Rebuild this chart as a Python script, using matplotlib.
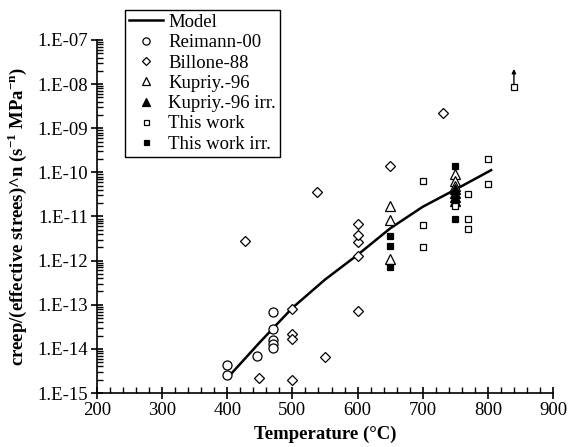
import numpy as np
import matplotlib
matplotlib.use("Agg")
import matplotlib.pyplot as plt
from matplotlib.ticker import FuncFormatter, LogLocator, MultipleLocator

plt.rcParams['font.family'] = ['Liberation Serif', 'DejaVu Serif']
plt.rcParams['mathtext.fontset'] = 'custom'
plt.rcParams['mathtext.rm'] = 'Liberation Serif'
plt.rcParams['mathtext.bf'] = 'Liberation Serif:bold'

# Model curve
model_T = [405, 450, 500, 550, 600, 650, 700, 750, 805]
model_log = [-14.58, -13.85, -13.07, -12.43, -11.87, -11.27, -10.78, -10.39, -9.95]

# Reimann-00 (open circles)
reimann_T = [400, 400, 445, 470, 470, 470, 470, 470]
reimann_y = [4.3e-15, 2.6e-15, 6.9e-15, 6.7e-14, 2.8e-14, 1.6e-14, 1.3e-14, 1.07e-14]

# Billone-88 (open diamonds)
billone_T = [427, 448, 500, 500, 500, 500, 550, 600, 600, 600, 600, 600, 537, 650, 731]
billone_y = [2.8e-12, 2.2e-15, 8.0e-14, 2.2e-14, 1.7e-14, 2.0e-15, 6.4e-15, 7.2e-14,
             1.3e-12, 2.7e-12, 3.8e-12, 6.6e-12, 3.6e-11, 1.4e-10, 2.2e-09]

# Kupriy.-96 (open triangles)
kup_T = [650, 650, 650, 750, 750, 750]
kup_y = [1.7e-11, 8.3e-12, 1.1e-12, 9.0e-11, 6.5e-11, 5.0e-11]

# Kupriy.-96 irr. (filled triangles)
kup_irr_T = [750, 750, 750, 750]
kup_irr_y = [4.3e-11, 3.4e-11, 2.8e-11, 2.2e-11]

# This work (open squares)
work_T = [700, 700, 700, 750, 770, 770, 770, 800, 800, 840]
work_y = [6.3e-11, 6.3e-12, 2.0e-12, 1.7e-11, 3.2e-11, 8.7e-12, 5.1e-12, 2.0e-10, 5.4e-11, 8.5e-09]

# This work irr. (filled squares)
work_irr_T = [650, 650, 650, 750, 750]
work_irr_y = [3.6e-12, 2.1e-12, 7.2e-13, 1.4e-10, 9.0e-12]

fig = plt.figure(figsize=(5.69, 4.47), dpi=100)
ax = fig.add_axes([97 / 569, 1 - 393 / 447, 456 / 569, 353 / 447])

ax.plot(model_T, 10.0 ** np.array(model_log), color='black', lw=1.8, label='Model')
ax.plot(reimann_T, reimann_y, 'o', ls='none', mfc='white', mec='black', ms=6.5, mew=0.9,
        label='Reimann-00')
ax.plot(billone_T, billone_y, 'D', ls='none', mfc='white', mec='black', ms=5.2, mew=0.9,
        label='Billone-88')
ax.plot(kup_T, kup_y, '^', ls='none', mfc='white', mec='black', ms=7, mew=0.9,
        label='Kupriy.-96')
ax.plot(kup_irr_T, kup_irr_y, '^', ls='none', mfc='black', mec='black', ms=7, mew=0.9,
        label='Kupriy.-96 irr.')
ax.plot(work_T, work_y, 's', ls='none', mfc='white', mec='black', ms=4.5, mew=0.9,
        label='This work')
ax.plot(work_irr_T, work_irr_y, 's', ls='none', mfc='black', mec='black', ms=4.5, mew=0.9,
        label='This work irr.')

# lower-bound arrow on the last "This work" point
ax.annotate('', xy=(work_T[-1], work_y[-1] * 2.6), xytext=(work_T[-1], work_y[-1] * 1.15),
            arrowprops=dict(arrowstyle='-|>', color='black', lw=1.0, mutation_scale=6,
                            shrinkA=0, shrinkB=0))

ax.set_yscale('log')
ax.set_xlim(200, 900)
ax.set_ylim(1e-15, 1e-7)

ax.xaxis.set_major_locator(MultipleLocator(100))
ax.xaxis.set_minor_locator(MultipleLocator(20))
ax.yaxis.set_major_locator(LogLocator(base=10, numticks=20))
ax.yaxis.set_minor_locator(LogLocator(base=10, subs=np.arange(2, 10), numticks=20))
ax.yaxis.set_minor_formatter(FuncFormatter(lambda v, p: ''))
ax.yaxis.set_major_formatter(FuncFormatter(lambda v, p: f"1.E{int(round(np.log10(v))):03d}"))

ax.spines['top'].set_visible(False)
ax.spines['right'].set_visible(False)
ax.spines['left'].set_linewidth(1.2)
ax.spines['bottom'].set_linewidth(1.2)
ax.tick_params(axis='both', which='major', direction='inout', length=9, width=1.2,
               labelsize=13.5, pad=2)
ax.tick_params(axis='both', which='minor', direction='in', length=4, width=1.0)

ax.set_xlabel('Temperature (°C)', fontsize=13.5, fontweight='bold', labelpad=5)
ax.set_ylabel(r'creep/(effective strees)^n (s$^{\mathbf{-1}}$ MPa$^{\mathbf{-n}}$)',
              fontsize=13.5, fontweight='bold', labelpad=6)

leg = ax.legend(loc='upper left', bbox_to_anchor=(125 / 569, 1 - 10 / 447),
                bbox_transform=fig.transFigure, borderaxespad=0, fontsize=13.5,
                frameon=True, fancybox=False, edgecolor='black', framealpha=1,
                labelspacing=0.17, handlelength=1.8, handletextpad=0.3,
                borderpad=0.2, numpoints=1, markerscale=0.8)
leg.get_frame().set_linewidth(1.0)

fig.savefig('out.png', dpi=100)
